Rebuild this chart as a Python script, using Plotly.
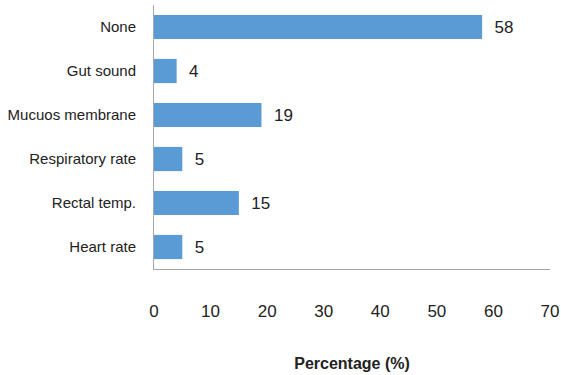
import plotly.graph_objects as go

# Survey categories (top to bottom) and their share in percent
categories = ["None", "Gut sound", "Mucuos membrane", "Respiratory rate", "Rectal temp.", "Heart rate"]
percentages = [58, 4, 19, 5, 15, 5]
x_ticks = [0, 10, 20, 30, 40, 50, 60, 70]

FONT = "Liberation Sans Narrow, Arial Narrow, Liberation Sans, sans-serif"
TEXT_COLOR = "#222222"

fig = go.Figure(
    go.Bar(
        x=percentages,
        y=categories,
        orientation="h",
        marker=dict(color="#5B9BD5", line=dict(width=0)),
        width=0.55,
        texttemplate="  %{x}",
        textposition="outside",
        textfont=dict(family=FONT, size=17, color=TEXT_COLOR),
        cliponaxis=False,
    )
)

fig.update_layout(
    width=561,
    height=375,
    margin=dict(l=154, r=11, t=5, b=106, autoexpand=False),
    paper_bgcolor="white",
    plot_bgcolor="white",
    showlegend=False,
    font=dict(family=FONT, size=15, color=TEXT_COLOR),
    xaxis=dict(
        range=[0, 70],
        tickvals=x_ticks,
        ticktext=[str(t) for t in x_ticks],
        showgrid=False,
        zeroline=False,
        showline=True,
        linecolor="#A6A6A6",
        linewidth=1,
        ticks="",
        ticklabelstandoff=27,
        automargin=False,
        tickfont=dict(family=FONT, size=17, color=TEXT_COLOR),
        title=dict(
            text="<b>Percentage (%)</b>",
            font=dict(family=FONT, size=16, color=TEXT_COLOR),
            standoff=37,
        ),
        fixedrange=True,
    ),
    yaxis=dict(
        categoryorder="array",
        categoryarray=categories[::-1],
        showgrid=False,
        zeroline=False,
        showline=True,
        linecolor="#A6A6A6",
        linewidth=1,
        ticks="",
        ticklabelstandoff=14,
        automargin=False,
        tickfont=dict(family=FONT, size=15, color=TEXT_COLOR),
        fixedrange=True,
    ),
)

fig.write_html("out.html")
